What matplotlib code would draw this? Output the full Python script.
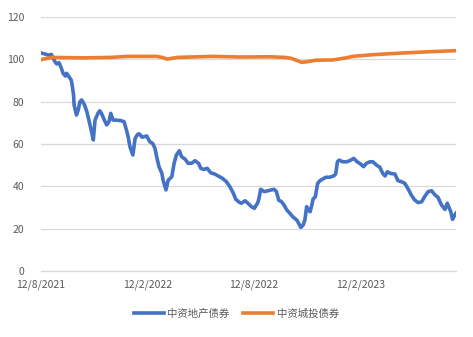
import matplotlib
matplotlib.use("Agg")
import matplotlib.pyplot as plt
import pandas as pd

plt.rcParams['font.family'] = ['Noto Sans CJK SC', 'DejaVu Sans']

start_date = "2021-08-12"

series_names = ["中资地产债券", "中资城投债券"]

# days since start_date, and index values
property_days = [0, 7, 13, 18, 21, 24, 27, 31, 34, 38, 42, 44, 48, 52, 54, 56, 57, 61, 64, 67,
                 70, 75, 79, 83, 87, 90, 93, 98, 101, 104, 109, 113, 117, 120, 124, 130, 138, 143, 147, 150,
                 153, 158, 162, 166, 169, 174, 179, 182, 187, 192, 196, 199, 203, 208, 210, 215, 219, 225, 229, 233,
                 238, 242, 248, 253, 259, 265, 271, 275, 280, 286, 292, 299, 305, 312, 319, 325, 331, 335, 341, 345,
                 351, 356, 362, 367, 373, 375, 378, 384, 390, 396, 401, 405, 409, 414, 418, 423, 428, 434, 440, 444,
                 447, 451, 454, 457, 460, 463, 466, 468, 472, 476, 480, 485, 490, 497, 504, 507, 510, 513, 519, 526,
                 531, 538, 544, 550, 555, 560, 566, 571, 577, 583, 588, 592, 596, 601, 609, 614, 620, 626, 632, 637,
                 643, 649, 655, 660, 666, 672, 678, 683, 689, 695, 699, 705, 708, 712, 714]
property_vals = [103.0, 102.5, 102.0, 102.3, 100.5, 98.9, 97.8, 98.4, 96.5, 93.4, 92.1, 93.4, 91.8, 90.2, 87.1, 83.1, 78.4, 73.7, 76.0, 80.0,
                 80.8, 78.4, 75.2, 70.5, 65.8, 61.9, 71.3, 74.5, 75.7, 74.5, 71.3, 69.0, 70.5, 74.5, 71.3, 71.3, 71.0, 70.5, 66.6, 63.4,
                 58.7, 54.8, 62.7, 64.5, 64.8, 63.2, 63.6, 63.8, 61.1, 60.3, 58.0, 54.0, 49.3, 46.1, 43.0, 38.3, 43.0, 44.5, 50.9, 54.8,
                 56.8, 54.0, 52.8, 50.9, 50.9, 52.1, 50.9, 48.5, 48.0, 48.5, 46.4, 45.8, 44.9, 43.8, 42.2, 39.8, 36.7, 33.9, 32.5, 32.0,
                 33.2, 32.0, 30.4, 29.6, 32.3, 34.3, 38.6, 37.5, 37.9, 38.3, 38.6, 37.5, 33.5, 32.7, 31.2, 28.8, 27.3, 25.4, 24.1, 22.2,
                 20.6, 21.7, 24.1, 30.4, 28.8, 28.0, 31.2, 33.9, 35.1, 41.4, 42.7, 43.5, 44.3, 44.3, 45.0, 45.8, 51.6, 52.4, 51.6, 51.6,
                 52.1, 53.2, 51.6, 50.5, 49.3, 50.9, 51.6, 51.6, 50.1, 49.0, 46.1, 44.9, 46.9, 46.1, 45.8, 42.7, 42.2, 41.4, 38.6, 35.9,
                 33.5, 32.3, 32.7, 35.1, 37.5, 37.9, 35.9, 34.8, 31.2, 29.1, 32.0, 28.0, 24.4, 26.5, 27.3]

lgfv_days = [0, 7, 21, 72, 119, 148, 199, 210, 217, 234, 296, 342, 394, 420, 430, 439, 448, 456, 474, 502,
             523, 537, 571, 623, 669, 714]
lgfv_vals = [99.8, 100.3, 100.9, 100.7, 100.9, 101.4, 101.4, 100.8, 100.1, 100.9, 101.4, 101.1, 101.2, 100.9, 100.5, 99.6, 98.6, 98.8, 99.6, 99.7,
             100.6, 101.4, 102.2, 103.0, 103.6, 104.1]

tick_dates = ["2021-08-12", "2022-02-12", "2022-08-12", "2023-02-12"]
tick_labels = ["12/8/2021", "12/2/2022", "12/8/2022", "12/2/2023"]
y_ticks = [0, 20, 40, 60, 80, 100, 120]

t0 = pd.Timestamp(start_date)
prop_x = t0 + pd.to_timedelta(property_days, unit="D")
lgfv_x = t0 + pd.to_timedelta(lgfv_days, unit="D")

fig = plt.figure(figsize=(4.73, 3.37), dpi=100)
ax = fig.add_axes([41/473, 1-271/337, (456-41)/473, (271-17)/337])

ax.plot(prop_x, property_vals, color="#4472C4", lw=2.6, solid_joinstyle="round", label=series_names[0], zorder=3)
ax.plot(lgfv_x, lgfv_vals, color="#ED7D31", lw=2.6, solid_joinstyle="round", label=series_names[1], zorder=3)

ax.set_ylim(0, 120)
ax.set_yticks(y_ticks)
ax.set_xlim(prop_x[0], prop_x[-1])
ax.set_xticks(pd.to_datetime(tick_dates))
ax.set_xticklabels(tick_labels)

ax.grid(axis="y", color="#D9D9D9", lw=0.9, zorder=0)
for s in ["top", "right", "left"]:
    ax.spines[s].set_visible(False)
ax.spines["bottom"].set_color("#D9D9D9")
ax.spines["bottom"].set_linewidth(0.9)
ax.tick_params(axis="both", length=0, labelsize=7.5, labelcolor="#595959")
ax.tick_params(axis="y", pad=12)
ax.tick_params(axis="x", pad=6)

fig.legend(loc="center", bbox_to_anchor=(0.5, 1-314/337), ncol=2, frameon=False,
           fontsize=7.5, handlelength=2.9, columnspacing=1.3, handletextpad=0.3,
           labelcolor="#595959")

fig.savefig("out.png", dpi=100)
